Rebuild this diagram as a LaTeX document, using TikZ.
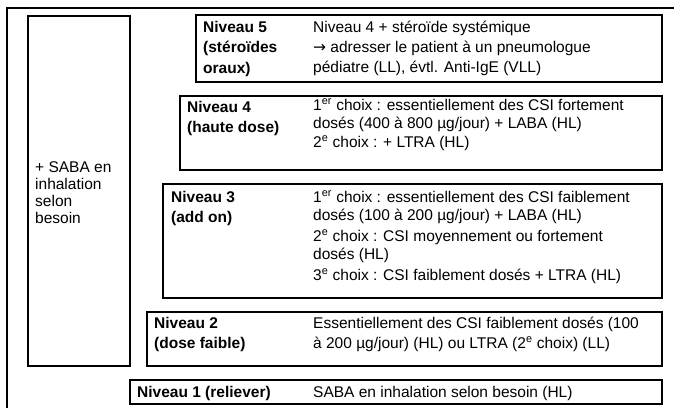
\documentclass[tikz,border=0pt]{standalone}
\usepackage{fontspec}
\setmainfont{Liberation Sans}
\newfontfamily\pfeilfont{DejaVu Sans}
\usetikzlibrary{positioning}

\begin{document}
\begin{tikzpicture}[x=1pt, y=-1pt,
    stufe/.style={draw, line width=1.7pt, rectangle, inner sep=0pt, anchor=north west},
    titel/.style={anchor=base west, inner sep=0pt, align=left, font=\fontsize{15.5}{20.5}\selectfont\bfseries},
    inhalt/.style={anchor=base west, inner sep=0pt, align=left, font=\fontsize{15.5}{18}\selectfont}]
    \useasboundingbox (0,0) rectangle (674,408);
    \draw[line width=1.2pt] (7,408) -- (7,8) -- (674,8);

    % boxes
    \node[stufe, minimum width=102, minimum height=350] (saba) at (27,15) {};
    \node[stufe, minimum width=466, minimum height=67] (n5) at (195,14) {};
    \node[stufe, minimum width=482, minimum height=74] (n4) at (179,95) {};
    \node[stufe, minimum width=499, minimum height=114] (n3) at (162,183) {};
    \node[stufe, minimum width=515, minimum height=54] (n2) at (146,311) {};
    \node[stufe, minimum width=532, minimum height=24] (n1) at (129,379) {};

    % texts (anchored at the baseline of the last line)
    \node[inhalt, font=\fontsize{15.5}{17}\selectfont] (sabatext) at (35,223) {+ SABA en\\inhalation\\selon\\besoin};

    \node[titel] (t5) at (203,73) {Niveau 5\\(stéroïdes\\oraux)};
    \node[inhalt, font=\fontsize{15.5}{20}\selectfont] (r5) at (313,72) {Niveau 4 + stéroïde systémique\\{\pfeilfont →} adresser le patient à un pneumologue\\pédiatre (LL), évtl. Anti-IgE (VLL)};

    \node[titel] (t4) at (187,132.5) {Niveau 4\\(haute dose)};
    \node[inhalt] (r4) at (313,147) {1\textsuperscript{er} choix : essentiellement des CSI fortement\\dosés (400 à 800 µg/jour) + LABA (HL)\\[1pt]2\textsuperscript{e} choix : + LTRA (HL)};

    \node[titel] (t3) at (171,222.5) {Niveau 3\\(add on)};
    \node[inhalt] (r3) at (313,280) {1\textsuperscript{er} choix : essentiellement des CSI faiblement\\dosés (100 à 200 µg/jour) + LABA (HL)\\[3pt]2\textsuperscript{e} choix : CSI moyennement ou fortement\\dosés (HL)\\[3pt]3\textsuperscript{e} choix : CSI faiblement dosés + LTRA (HL)};

    \node[titel] (t2) at (154,348.5) {Niveau 2\\(dose faible)};
    \node[inhalt, font=\fontsize{15.5}{20}\selectfont] (r2) at (313,348) {Essentiellement des CSI faiblement dosés (100\\à 200 µg/jour) (HL) ou LTRA (2\textsuperscript{e} choix) (LL)};

    \node[titel] (t1) at (137,397) {Niveau 1 (reliever)};
    \node[inhalt] (r1) at (313,397) {SABA en inhalation selon besoin (HL)};
\end{tikzpicture}
\end{document}
